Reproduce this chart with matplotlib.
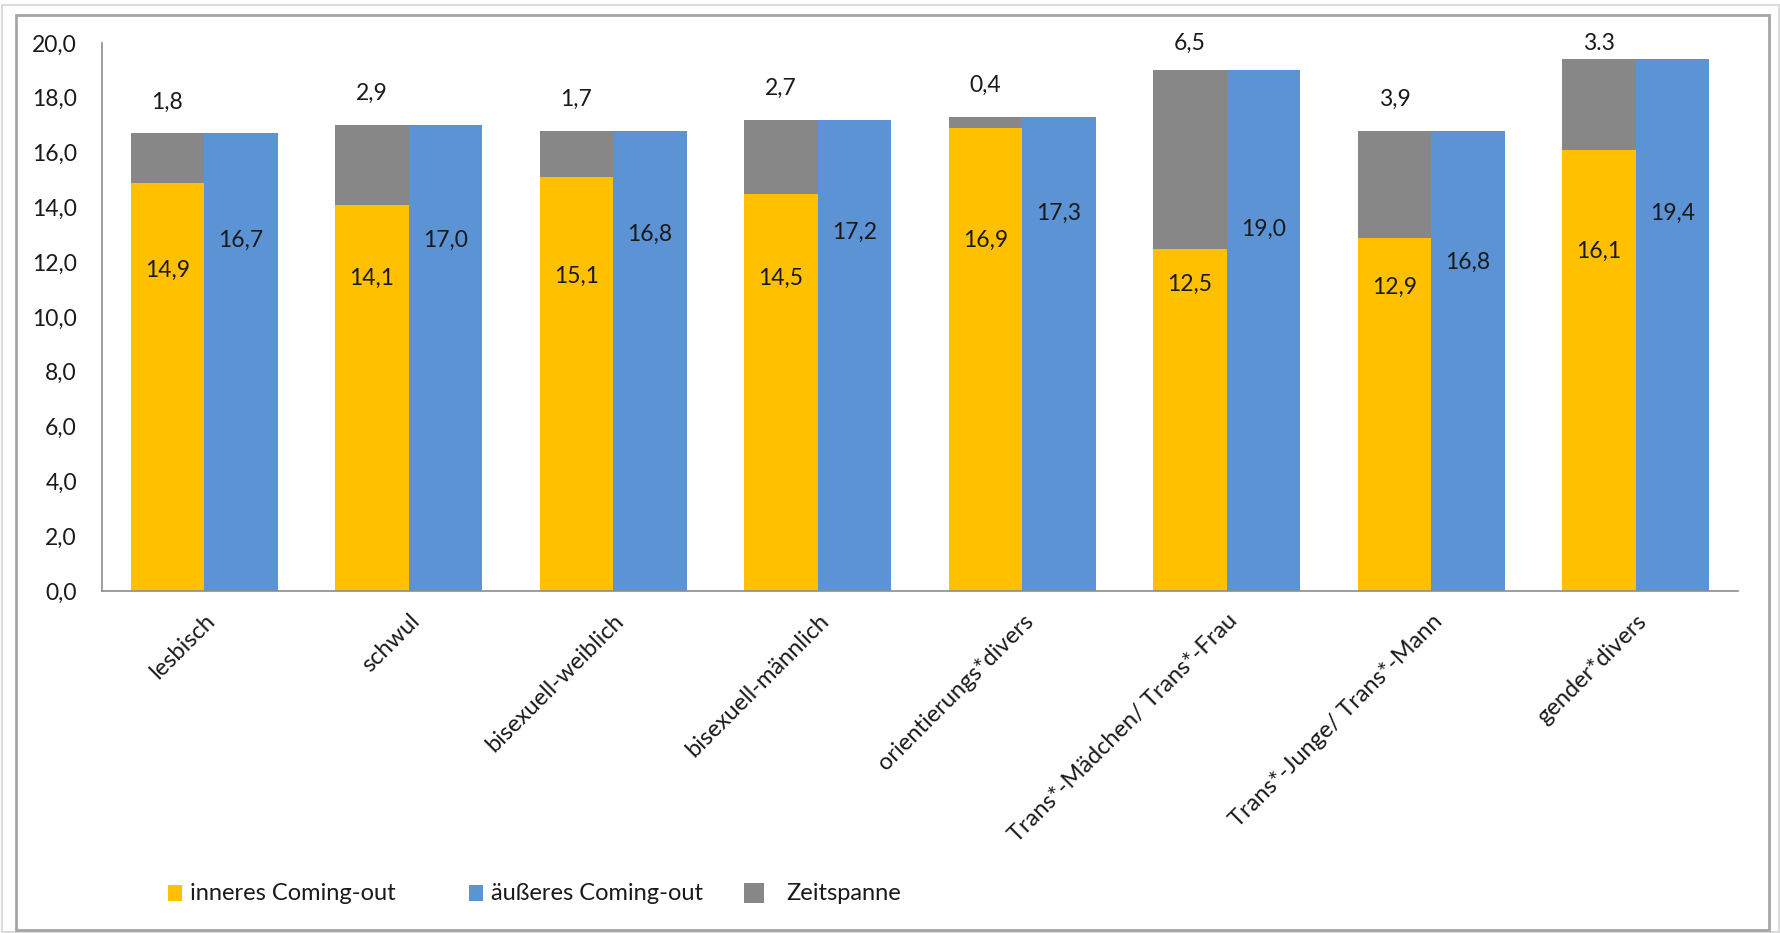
import matplotlib
matplotlib.use("Agg")
import matplotlib.pyplot as plt
from matplotlib.patches import Rectangle
import numpy as np

# ---- data ----
categories = ["lesbisch", "schwul", "bisexuell-weiblich", "bisexuell-männlich",
              "orientierungs*divers", "Trans*-Mädchen/ Trans*-Frau",
              "Trans*-Junge/ Trans*-Mann", "gender*divers"]
inneres = [14.9, 14.1, 15.1, 14.5, 16.9, 12.5, 12.9, 16.1]
aeusseres = [16.7, 17.0, 16.8, 17.2, 17.3, 19.0, 16.8, 19.4]
zeitspanne = [1.8, 2.9, 1.7, 2.7, 0.4, 6.5, 3.9, 3.3]
zeit_labels = ["1,8", "2,9", "1,7", "2,7", "0,4", "6,5", "3,9", "3.3"]
series_names = ["inneres Coming-out", "äußeres Coming-out", "Zeitspanne"]
yticks = [0, 2, 4, 6, 8, 10, 12, 14, 16, 18, 20]

# ---- layout (label placement, data units) ----
inner_label_y = [11.7, 11.4, 11.5, 11.4, 12.8, 11.2, 11.1, 12.4]
outer_label_y = [12.8, 12.8, 13.0, 13.1, 13.8, 13.2, 12.0, 13.8]

YELLOW = "#FFC000"
BLUE = "#5B93D5"
GREY = "#878787"
TXT = "#1a1a1a"

plt.rcParams['font.family'] = ['Lato', 'DejaVu Sans']

W, H = 1781, 933
fig = plt.figure(figsize=(W / 100, H / 100), dpi=100)

def fx(px):
    return px / W

def fy(py):
    return 1 - py / H

# frames
fig.patches.append(Rectangle((fx(2), fy(932)), fx(1777), 927 / H, transform=fig.transFigure,
                             fill=False, edgecolor="#D4D4D4", linewidth=1.2))
fig.patches.append(Rectangle((fx(16), fy(930)), fx(1753), 915 / H, transform=fig.transFigure,
                             fill=False, edgecolor="#A6A6A6", linewidth=2.0))

ax = fig.add_axes([fx(102), fy(591), fx(1738 - 102), (591 - 43) / H])

x = np.arange(len(categories))
bw = 0.36
ax.bar(x - bw / 2, inneres, bw, color=YELLOW, label=series_names[0])
ax.bar(x - bw / 2, zeitspanne, bw, bottom=inneres, color=GREY, label=series_names[2])
ax.bar(x + bw / 2, aeusseres, bw, color=BLUE, label=series_names[1])

fs = 16.5
fs_lab = 17
for i in range(len(categories)):
    ax.text(x[i] - bw / 2, inner_label_y[i], f"{inneres[i]:.1f}".replace('.', ','),
            ha='center', va='center', fontsize=fs, color=TXT)
    ax.text(x[i] + bw / 2, outer_label_y[i], f"{aeusseres[i]:.1f}".replace('.', ','),
            ha='center', va='center', fontsize=fs, color=TXT)
    top = inneres[i] + zeitspanne[i]
    ax.text(x[i] - bw / 2, min(top + 1.15, 20.0), zeit_labels[i],
            ha='center', va='center', fontsize=fs, color=TXT)

ax.set_xlim(-0.5, len(categories) - 0.5)
ax.set_ylim(0, 20)
ax.set_yticks(yticks)
ax.set_yticklabels([f"{v:.1f}".replace('.', ',') for v in yticks], fontsize=fs, color=TXT)
ax.set_xticks(x)
ax.set_xticklabels(categories, rotation=45, ha='right', va='top', rotation_mode='anchor',
                   fontsize=fs_lab, color=TXT)
ax.tick_params(axis='y', length=0, pad=18)
ax.tick_params(axis='x', length=0, pad=14)
for s in ['top', 'right']:
    ax.spines[s].set_visible(False)
for s in ['left', 'bottom']:
    ax.spines[s].set_color("#8C8C8C")
    ax.spines[s].set_linewidth(1.2)

# legend (manual, Excel-like spacing)
leg_y = 893
entries = [(168, 14, 16, YELLOW, 190, series_names[0]),
           (469, 14, 16, BLUE, 491, series_names[1]),
           (744, 20, 20, GREY, 786, series_names[2])]
for (lx, w, h, col, tx, name) in entries:
    fig.patches.append(Rectangle((fx(lx), fy(leg_y + h / 2)), w / W, h / H,
                                 transform=fig.transFigure, facecolor=col, edgecolor='none'))
    fig.text(fx(tx), fy(leg_y), name, ha='left', va='center', fontsize=fs_lab, color=TXT)

fig.savefig("out.png", dpi=100)
